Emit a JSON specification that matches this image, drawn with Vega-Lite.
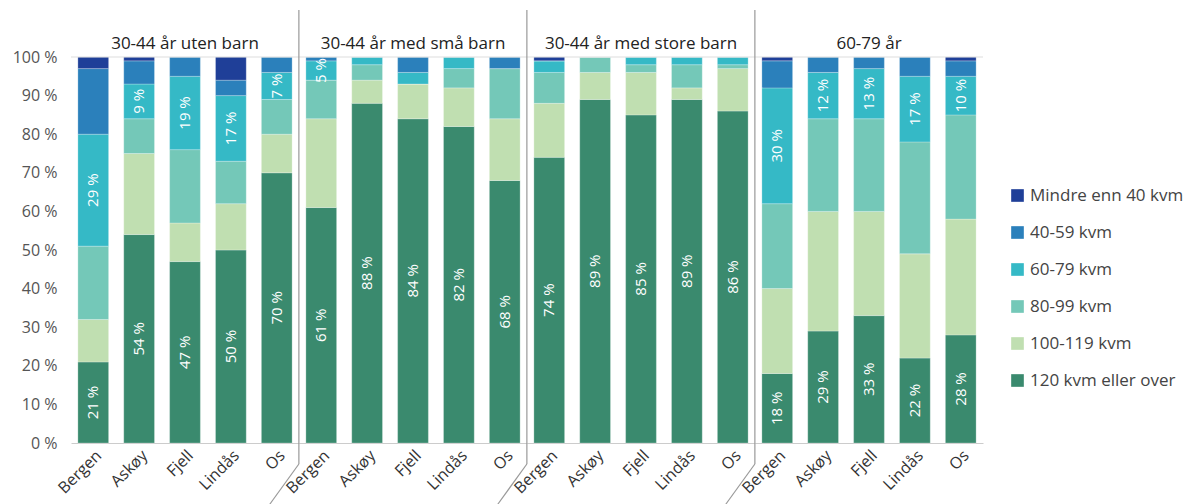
{
  "$schema": "https://vega.github.io/schema/vega-lite/v6.json",
  "padding": {"top": 9, "left": 12, "right": 5, "bottom": 0},
  "bounds": "flush",
  "datasets": {
    "d": [
      {"p":"30-44 år uten barn","k":"Bergen","s":"120 kvm eller over","v":21},
      {"p":"30-44 år uten barn","k":"Bergen","s":"100-119 kvm","v":11},
      {"p":"30-44 år uten barn","k":"Bergen","s":"80-99 kvm","v":19},
      {"p":"30-44 år uten barn","k":"Bergen","s":"60-79 kvm","v":29},
      {"p":"30-44 år uten barn","k":"Bergen","s":"40-59 kvm","v":17},
      {"p":"30-44 år uten barn","k":"Bergen","s":"Mindre enn 40 kvm","v":3},
      {"p":"30-44 år uten barn","k":"Askøy","s":"120 kvm eller over","v":54},
      {"p":"30-44 år uten barn","k":"Askøy","s":"100-119 kvm","v":21},
      {"p":"30-44 år uten barn","k":"Askøy","s":"80-99 kvm","v":9},
      {"p":"30-44 år uten barn","k":"Askøy","s":"60-79 kvm","v":9},
      {"p":"30-44 år uten barn","k":"Askøy","s":"40-59 kvm","v":6},
      {"p":"30-44 år uten barn","k":"Askøy","s":"Mindre enn 40 kvm","v":1},
      {"p":"30-44 år uten barn","k":"Fjell","s":"120 kvm eller over","v":47},
      {"p":"30-44 år uten barn","k":"Fjell","s":"100-119 kvm","v":10},
      {"p":"30-44 år uten barn","k":"Fjell","s":"80-99 kvm","v":19},
      {"p":"30-44 år uten barn","k":"Fjell","s":"60-79 kvm","v":19},
      {"p":"30-44 år uten barn","k":"Fjell","s":"40-59 kvm","v":5},
      {"p":"30-44 år uten barn","k":"Fjell","s":"Mindre enn 40 kvm","v":0},
      {"p":"30-44 år uten barn","k":"Lindås","s":"120 kvm eller over","v":50},
      {"p":"30-44 år uten barn","k":"Lindås","s":"100-119 kvm","v":12},
      {"p":"30-44 år uten barn","k":"Lindås","s":"80-99 kvm","v":11},
      {"p":"30-44 år uten barn","k":"Lindås","s":"60-79 kvm","v":17},
      {"p":"30-44 år uten barn","k":"Lindås","s":"40-59 kvm","v":4},
      {"p":"30-44 år uten barn","k":"Lindås","s":"Mindre enn 40 kvm","v":6},
      {"p":"30-44 år uten barn","k":"Os","s":"120 kvm eller over","v":70},
      {"p":"30-44 år uten barn","k":"Os","s":"100-119 kvm","v":10},
      {"p":"30-44 år uten barn","k":"Os","s":"80-99 kvm","v":9},
      {"p":"30-44 år uten barn","k":"Os","s":"60-79 kvm","v":7},
      {"p":"30-44 år uten barn","k":"Os","s":"40-59 kvm","v":4},
      {"p":"30-44 år uten barn","k":"Os","s":"Mindre enn 40 kvm","v":0},
      {"p":"30-44 år med små barn","k":"Bergen","s":"120 kvm eller over","v":61},
      {"p":"30-44 år med små barn","k":"Bergen","s":"100-119 kvm","v":23},
      {"p":"30-44 år med små barn","k":"Bergen","s":"80-99 kvm","v":10},
      {"p":"30-44 år med små barn","k":"Bergen","s":"60-79 kvm","v":5},
      {"p":"30-44 år med små barn","k":"Bergen","s":"40-59 kvm","v":1},
      {"p":"30-44 år med små barn","k":"Bergen","s":"Mindre enn 40 kvm","v":0},
      {"p":"30-44 år med små barn","k":"Askøy","s":"120 kvm eller over","v":88},
      {"p":"30-44 år med små barn","k":"Askøy","s":"100-119 kvm","v":6},
      {"p":"30-44 år med små barn","k":"Askøy","s":"80-99 kvm","v":4},
      {"p":"30-44 år med små barn","k":"Askøy","s":"60-79 kvm","v":2},
      {"p":"30-44 år med små barn","k":"Askøy","s":"40-59 kvm","v":0},
      {"p":"30-44 år med små barn","k":"Askøy","s":"Mindre enn 40 kvm","v":0},
      {"p":"30-44 år med små barn","k":"Fjell","s":"120 kvm eller over","v":84},
      {"p":"30-44 år med små barn","k":"Fjell","s":"100-119 kvm","v":9},
      {"p":"30-44 år med små barn","k":"Fjell","s":"80-99 kvm","v":0},
      {"p":"30-44 år med små barn","k":"Fjell","s":"60-79 kvm","v":3},
      {"p":"30-44 år med små barn","k":"Fjell","s":"40-59 kvm","v":4},
      {"p":"30-44 år med små barn","k":"Fjell","s":"Mindre enn 40 kvm","v":0},
      {"p":"30-44 år med små barn","k":"Lindås","s":"120 kvm eller over","v":82},
      {"p":"30-44 år med små barn","k":"Lindås","s":"100-119 kvm","v":10},
      {"p":"30-44 år med små barn","k":"Lindås","s":"80-99 kvm","v":5},
      {"p":"30-44 år med små barn","k":"Lindås","s":"60-79 kvm","v":3},
      {"p":"30-44 år med små barn","k":"Lindås","s":"40-59 kvm","v":0},
      {"p":"30-44 år med små barn","k":"Lindås","s":"Mindre enn 40 kvm","v":0},
      {"p":"30-44 år med små barn","k":"Os","s":"120 kvm eller over","v":68},
      {"p":"30-44 år med små barn","k":"Os","s":"100-119 kvm","v":16},
      {"p":"30-44 år med små barn","k":"Os","s":"80-99 kvm","v":13},
      {"p":"30-44 år med små barn","k":"Os","s":"60-79 kvm","v":0},
      {"p":"30-44 år med små barn","k":"Os","s":"40-59 kvm","v":3},
      {"p":"30-44 år med små barn","k":"Os","s":"Mindre enn 40 kvm","v":0},
      {"p":"30-44 år med store barn","k":"Bergen","s":"120 kvm eller over","v":74},
      {"p":"30-44 år med store barn","k":"Bergen","s":"100-119 kvm","v":14},
      {"p":"30-44 år med store barn","k":"Bergen","s":"80-99 kvm","v":8},
      {"p":"30-44 år med store barn","k":"Bergen","s":"60-79 kvm","v":3},
      {"p":"30-44 år med store barn","k":"Bergen","s":"40-59 kvm","v":0},
      {"p":"30-44 år med store barn","k":"Bergen","s":"Mindre enn 40 kvm","v":1},
      {"p":"30-44 år med store barn","k":"Askøy","s":"120 kvm eller over","v":89},
      {"p":"30-44 år med store barn","k":"Askøy","s":"100-119 kvm","v":7},
      {"p":"30-44 år med store barn","k":"Askøy","s":"80-99 kvm","v":4},
      {"p":"30-44 år med store barn","k":"Askøy","s":"60-79 kvm","v":0},
      {"p":"30-44 år med store barn","k":"Askøy","s":"40-59 kvm","v":0},
      {"p":"30-44 år med store barn","k":"Askøy","s":"Mindre enn 40 kvm","v":0},
      {"p":"30-44 år med store barn","k":"Fjell","s":"120 kvm eller over","v":85},
      {"p":"30-44 år med store barn","k":"Fjell","s":"100-119 kvm","v":11},
      {"p":"30-44 år med store barn","k":"Fjell","s":"80-99 kvm","v":2},
      {"p":"30-44 år med store barn","k":"Fjell","s":"60-79 kvm","v":2},
      {"p":"30-44 år med store barn","k":"Fjell","s":"40-59 kvm","v":0},
      {"p":"30-44 år med store barn","k":"Fjell","s":"Mindre enn 40 kvm","v":0},
      {"p":"30-44 år med store barn","k":"Lindås","s":"120 kvm eller over","v":89},
      {"p":"30-44 år med store barn","k":"Lindås","s":"100-119 kvm","v":3},
      {"p":"30-44 år med store barn","k":"Lindås","s":"80-99 kvm","v":6},
      {"p":"30-44 år med store barn","k":"Lindås","s":"60-79 kvm","v":2},
      {"p":"30-44 år med store barn","k":"Lindås","s":"40-59 kvm","v":0},
      {"p":"30-44 år med store barn","k":"Lindås","s":"Mindre enn 40 kvm","v":0},
      {"p":"30-44 år med store barn","k":"Os","s":"120 kvm eller over","v":86},
      {"p":"30-44 år med store barn","k":"Os","s":"100-119 kvm","v":11},
      {"p":"30-44 år med store barn","k":"Os","s":"80-99 kvm","v":1},
      {"p":"30-44 år med store barn","k":"Os","s":"60-79 kvm","v":2},
      {"p":"30-44 år med store barn","k":"Os","s":"40-59 kvm","v":0},
      {"p":"30-44 år med store barn","k":"Os","s":"Mindre enn 40 kvm","v":0},
      {"p":"60-79 år","k":"Bergen","s":"120 kvm eller over","v":18},
      {"p":"60-79 år","k":"Bergen","s":"100-119 kvm","v":22},
      {"p":"60-79 år","k":"Bergen","s":"80-99 kvm","v":22},
      {"p":"60-79 år","k":"Bergen","s":"60-79 kvm","v":30},
      {"p":"60-79 år","k":"Bergen","s":"40-59 kvm","v":7},
      {"p":"60-79 år","k":"Bergen","s":"Mindre enn 40 kvm","v":1},
      {"p":"60-79 år","k":"Askøy","s":"120 kvm eller over","v":29},
      {"p":"60-79 år","k":"Askøy","s":"100-119 kvm","v":31},
      {"p":"60-79 år","k":"Askøy","s":"80-99 kvm","v":24},
      {"p":"60-79 år","k":"Askøy","s":"60-79 kvm","v":12},
      {"p":"60-79 år","k":"Askøy","s":"40-59 kvm","v":4},
      {"p":"60-79 år","k":"Askøy","s":"Mindre enn 40 kvm","v":0},
      {"p":"60-79 år","k":"Fjell","s":"120 kvm eller over","v":33},
      {"p":"60-79 år","k":"Fjell","s":"100-119 kvm","v":27},
      {"p":"60-79 år","k":"Fjell","s":"80-99 kvm","v":24},
      {"p":"60-79 år","k":"Fjell","s":"60-79 kvm","v":13},
      {"p":"60-79 år","k":"Fjell","s":"40-59 kvm","v":3},
      {"p":"60-79 år","k":"Fjell","s":"Mindre enn 40 kvm","v":0},
      {"p":"60-79 år","k":"Lindås","s":"120 kvm eller over","v":22},
      {"p":"60-79 år","k":"Lindås","s":"100-119 kvm","v":27},
      {"p":"60-79 år","k":"Lindås","s":"80-99 kvm","v":29},
      {"p":"60-79 år","k":"Lindås","s":"60-79 kvm","v":17},
      {"p":"60-79 år","k":"Lindås","s":"40-59 kvm","v":5},
      {"p":"60-79 år","k":"Lindås","s":"Mindre enn 40 kvm","v":0},
      {"p":"60-79 år","k":"Os","s":"120 kvm eller over","v":28},
      {"p":"60-79 år","k":"Os","s":"100-119 kvm","v":30},
      {"p":"60-79 år","k":"Os","s":"80-99 kvm","v":27},
      {"p":"60-79 år","k":"Os","s":"60-79 kvm","v":10},
      {"p":"60-79 år","k":"Os","s":"40-59 kvm","v":4},
      {"p":"60-79 år","k":"Os","s":"Mindre enn 40 kvm","v":1}
    ]
  },
  "data": {"name": "d"},
  "transform": [
    {"calculate": "indexof(['120 kvm eller over','100-119 kvm','80-99 kvm','60-79 kvm','40-59 kvm','Mindre enn 40 kvm'], datum.s)", "as": "ord"},
    {"stack": "v", "groupby": ["p", "k"], "sort": [{"field": "ord", "order": "ascending"}], "as": ["y0", "y1"]},
    {"calculate": "(datum.y0 + datum.y1) / 2", "as": "ymid"},
    {"calculate": "datum.v + ' %'", "as": "lbl"}
  ],
  "facet": {
    "column": {
      "field": "p",
      "type": "nominal",
      "sort": ["30-44 år uten barn", "30-44 år med små barn", "30-44 år med store barn", "60-79 år"],
      "title": null,
      "header": {"labelFontSize": 17, "labelColor": "#222", "labelPadding": 4, "labelFont": "Open Sans"}
    }
  },
  "spacing": 0,
  "spec": {
    "width": 228,
    "height": 386,
    "layer": [
      {
        "mark": {"type": "bar", "stroke": "white", "strokeWidth": 0.5, "strokeOpacity": 0.5},
        "encoding": {
          "x": {"field": "k", "type": "nominal", "sort": ["Bergen", "Askøy", "Fjell", "Lindås", "Os"],
                "scale": {"paddingInner": 0.33, "paddingOuter": 0.15},
                "axis": {"title": null, "labelAngle": -45, "labelFontSize": 16, "labelColor": "#333", "ticks": false, "domainColor": "#ccc", "labelPadding": 4}},
          "y": {"field": "y0", "type": "quantitative", "scale": {"domain": [0, 100]},
                "axis": {"title": null, "values": [0,10,20,30,40,50,60,70,80,90,100], "tickCount": 11, "labelOverlap": false, "labelExpr": "datum.value + ' %'", "labelFontSize": 16, "labelColor": "#555", "ticks": false, "domain": false, "grid": false, "labelPadding": 14}},
          "y2": {"field": "y1"},
          "color": {"field": "s", "type": "nominal",
                    "scale": {"domain": ["Mindre enn 40 kvm", "40-59 kvm", "60-79 kvm", "80-99 kvm", "100-119 kvm", "120 kvm eller over"],
                              "range": ["#1f3f98", "#2b80bb", "#35b9c6", "#74c8b8", "#c0dfb1", "#3a8a6e"]},
                    "legend": {"title": null, "orient": "none", "legendX": 938, "legendY": 130, "symbolType": "square", "symbolSize": 160, "labelFontSize": 17, "labelColor": "#444", "rowPadding": 19, "labelOffset": 4, "symbolStrokeWidth": 0, "labelFont": "Open Sans"}}
        }
      },
      {
        "transform": [{"filter": "datum.s == '120 kvm eller over' || (datum.s == '60-79 kvm' && (datum.p == '30-44 år uten barn' || datum.p == '60-79 år' || (datum.p == '30-44 år med små barn' && datum.k == 'Bergen')))"}],
        "mark": {"type": "text", "angle": 270, "color": "white", "fontSize": 15, "font": "Open Sans"},
        "encoding": {
          "x": {"field": "k", "type": "nominal", "sort": ["Bergen", "Askøy", "Fjell", "Lindås", "Os"]},
          "y": {"field": "ymid", "type": "quantitative"},
          "text": {"field": "lbl"}
        }
      },
      {
        "transform": [{"filter": "datum.k == 'Bergen' && datum.s == '120 kvm eller over'"}],
        "mark": {"type": "rule", "color": "#ddd", "strokeWidth": 1},
        "encoding": {"y": {"datum": 100}}
      },
      {
        "transform": [{"filter": "datum.k == 'Bergen' && datum.s == '120 kvm eller over' && datum.p != '30-44 år uten barn'"}],
        "mark": {"type": "rule", "color": "#999", "strokeWidth": 1.2, "xOffset": -7, "yOffset": 21, "y2Offset": -47},
        "encoding": {
          "x": {"field": "k", "type": "nominal", "sort": ["Bergen", "Askøy", "Fjell", "Lindås", "Os"], "bandPosition": 0},
          "y": {"datum": 0},
          "y2": {"datum": 100}
        }
      },
      {
        "transform": [{"filter": "datum.k == 'Bergen' && datum.s == '120 kvm eller over' && datum.p != '30-44 år uten barn'"}],
        "mark": {"type": "rule", "color": "#999", "strokeWidth": 1.2, "xOffset": -7, "x2Offset": -52, "yOffset": 21, "y2Offset": 62},
        "encoding": {
          "x": {"field": "k", "type": "nominal", "sort": ["Bergen", "Askøy", "Fjell", "Lindås", "Os"], "bandPosition": 0},
          "x2": {"field": "k"},
          "y": {"datum": 0},
          "y2": {"datum": 0}
        }
      }
    ]
  },
  "config": {
    "font": "Open Sans",
    "view": {"stroke": null},
    "axis": {"labelFont": "Open Sans"},
    "axisY": {"labelOverlap": false}
  }
}
